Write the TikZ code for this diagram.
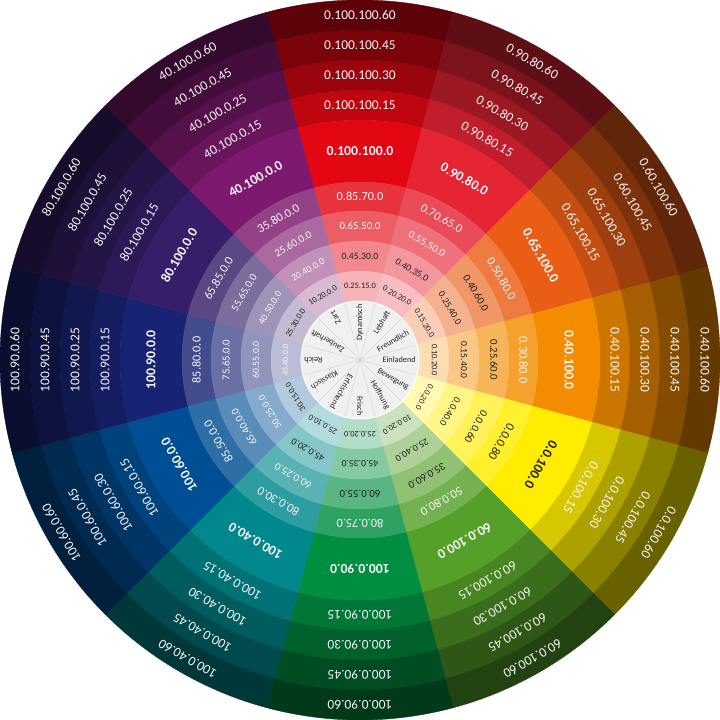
\documentclass[tikz,border=0pt]{standalone}
\usepackage{fontspec}
\setmainfont{Carlito}
\usetikzlibrary{positioning}

% base colours of the twelve sectors
\definecolor{cS90}{RGB}{227,6,19}
\definecolor{cS60}{RGB}{229,36,52}
\definecolor{cS30}{RGB}{234,93,21}
\definecolor{cS0}{RGB}{243,140,0}
\definecolor{cSm30}{RGB}{255,237,0}
\definecolor{cSm60}{RGB}{86,160,41}
\definecolor{cSm90}{RGB}{0,142,64}
\definecolor{cSm120}{RGB}{0,136,140}
\definecolor{cSm150}{RGB}{0,78,148}
\definecolor{cS180}{RGB}{25,35,115}
\definecolor{cS150}{RGB}{55,30,105}
\definecolor{cS120}{RGB}{125,25,110}
\definecolor{txtW}{RGB}{245,245,245}
\definecolor{txtK}{RGB}{35,35,35}
\definecolor{hubfill}{RGB}{240,240,240}
\definecolor{hubline}{RGB}{214,214,214}

% one piece of a ring: colour, mid angle, inner and outer radius (bp)
\newcommand{\ringpiece}[4]{%
  \filldraw[fill=#1, draw=#1, line width=0.4pt]
    (#2-15:#3bp) arc[start angle=#2-15, end angle=#2+15, radius=#3bp]
    -- (#2+15:#4bp) arc[start angle=#2+15, end angle=#2-15, radius=#4bp] -- cycle;}

\begin{document}
\begin{tikzpicture}[
  darklbl/.style={font=\fontsize{13.5}{16}\selectfont, text=txtW, inner sep=0pt},
  purelbl/.style={font=\fontsize{13.8}{16}\selectfont\bfseries, inner sep=0pt},
  tintlbl/.style={inner sep=0pt},
  wordlbl/.style={font=\fontsize{8.3}{10}\selectfont, text=txtK, inner sep=0pt, anchor=east}
]
  \useasboundingbox (-360bp,-360bp) rectangle (360bp,360bp);

  \foreach \ang/\col/\pur/\pcol/\dA/\dB/\dC/\dD/\tA/\tB/\tC/\tD/\kA/\kB/\kC/\kD [count=\s] in {
    90/cS90/0.100.100.0/txtW/0.100.100.15/0.100.100.30/0.100.100.45/0.100.100.60/0.85.70.0/0.65.50.0/0.45.30.0/0.25.15.0/txtW/txtW/txtK/txtK,
    60/cS60/0.90.80.0/txtW/0.90.80.15/0.90.80.30/0.90.80.45/0.90.80.60/0.70.65.0/0.55.50.0/0.40.35.0/0.20.20.0/txtW/txtW/txtK/txtK,
    30/cS30/0.65.100.0/txtW/0.65.100.15/0.65.100.30/0.60.100.45/0.60.100.60/0.50.80.0/0.40.60.0/0.25.40.0/0.15.20.0/txtW/txtK/txtK/txtK,
    0/cS0/0.40.100.0/txtW/0.40.100.15/0.40.100.30/0.40.100.45/0.40.100.60/0.30.80.0/0.25.60.0/0.15.40.0/0.10.20.0/txtW/txtK/txtK/txtK,
    -30/cSm30/0.0.100.0/txtK/0.0.100.15/0.0.100.30/0.0.100.45/0.0.100.60/0.0.0.80/0.0.0.60/0.0.40.0/0.0.20.0/txtK/txtK/txtK/txtK,
    -60/cSm60/60.0.100.0/txtW/60.0.100.15/60.0.100.30/60.0.100.45/60.0.100.60/50.0.80.0/35.0.60.0/25.0.40.0/10.0.20.0/txtW/txtK/txtK/txtK,
    -90/cSm90/100.0.90.0/txtW/100.0.90.15/100.0.90.30/100.0.90.45/100.0.90.60/80.0.75.0/60.0.55.0/45.0.35.0/25.0.20.0/txtW/txtK/txtK/txtK,
    -120/cSm120/100.0.40.0/txtW/100.0.40.15/100.0.40.30/100.0.40.45/100.0.40.60/80.0.30.0/60.0.25.0/45.0.20.0/25.0.10.0/txtW/txtW/txtK/txtK,
    -150/cSm150/100.60.0.0/txtW/100.60.0.15/100.60.0.30/100.60.0.45/100.60.0.60/85.50.0.0/65.40.0.0/50.25.0.0/30.15.0.0/txtW/txtW/txtW/txtK,
    180/cS180/100.90.0.0/txtW/100.90.0.15/100.90.0.25/100.90.0.45/100.90.0.60/85.80.0.0/75.65.0.0/60.55.0.0/45.40.0.0/txtW/txtW/txtW/txtW,
    150/cS150/80.100.0.0/txtW/80.100.0.15/80.100.0.25/80.100.0.45/80.100.0.60/65.85.0.0/55.65.0.0/40.50.0.0/25.30.0.0/txtW/txtW/txtW/txtK,
    120/cS120/40.100.0.0/txtW/40.100.0.15/40.100.0.25/40.100.0.45/40.100.0.60/35.80.0.0/25.60.0.0/20.40.0.0/10.20.0.0/txtW/txtW/txtW/txtK}{
    % shades (outside), pure colour, tints (inside)
    \ringpiece{\col!84!black}{\ang}{240}{270}
    \ringpiece{\col!68!black}{\ang}{270}{300}
    \ringpiece{\col!54!black}{\ang}{300}{330}
    \ringpiece{\col!41!black}{\ang}{330}{360}
    \ringpiece{\col}{\ang}{178}{240}
    \ringpiece{\col!82!white}{\ang}{149}{178}
    \ringpiece{\col!65!white}{\ang}{119}{149}
    \ringpiece{\col!48!white}{\ang}{89}{119}
    \ringpiece{\col!30!white}{\ang}{59}{89}

    \node[purelbl, text=\pcol, rotate=\ang-90] (pure-\s) at (\ang:209bp) {\pur};
    \node[darklbl, rotate=\ang-90] (dark-\s-a) at (\ang:255bp) {\dA};
    \node[darklbl, rotate=\ang-90] (dark-\s-b) at (\ang:285bp) {\dB};
    \node[darklbl, rotate=\ang-90] (dark-\s-c) at (\ang:315bp) {\dC};
    \node[darklbl, rotate=\ang-90] (dark-\s-d) at (\ang:345bp) {\dD};
    \node[tintlbl, font=\fontsize{12.3}{14}\selectfont, text=\kA, rotate=\ang-90] (tint-\s-a) at (\ang:163.5bp) {\tA};
    \node[tintlbl, font=\fontsize{10.8}{13}\selectfont, text=\kB, rotate=\ang-90] (tint-\s-b) at (\ang:134bp) {\tB};
    \node[tintlbl, font=\fontsize{9.7}{12}\selectfont, text=\kC, rotate=\ang-90] (tint-\s-c) at (\ang:104bp) {\tC};
    \node[tintlbl, font=\fontsize{8.4}{10}\selectfont, text=\kD, rotate=\ang-90] (tint-\s-d) at (\ang:74.5bp) {\tD};
  }

  % hub with the words
  \filldraw[fill=hubfill, draw=white, line width=1pt] (0,0) circle[radius=59bp];
  \foreach \ang in {75,45,...,-255}
    \draw[hubline, line width=0.5pt] (0,0) -- (\ang:58.5bp);
  \foreach \ang/\word [count=\w] in {90/Dynamisch, 60/Lebhaft, 30/Freundlich, 0/Einladend,
      -30/Bewegung, -60/Hoffnung, -90/Frisch, -120/Erfrischend, -150/Klassisch,
      180/Reich, 150/Zauberhaft, 120/Zart}
    \node[wordlbl, rotate=\ang] (word-\w) at (\ang:56bp) {\word};
\end{tikzpicture}
\end{document}
